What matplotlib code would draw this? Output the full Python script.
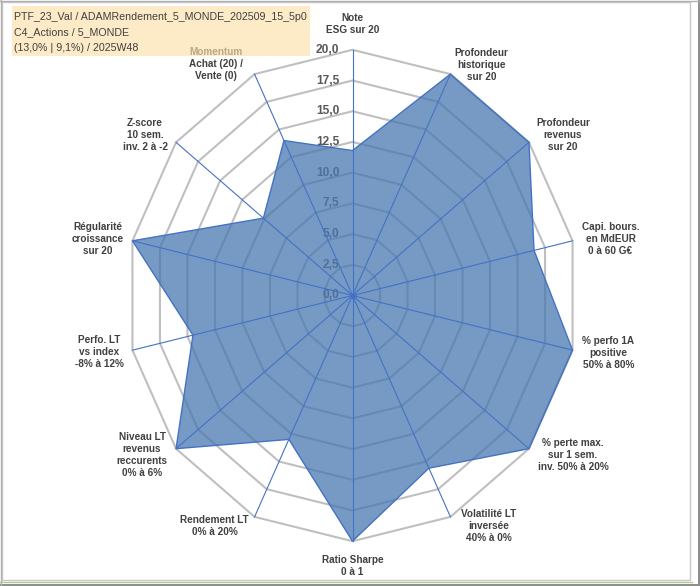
import numpy as np
import matplotlib
matplotlib.use("Agg")
import matplotlib.pyplot as plt
from matplotlib.patches import Polygon, Rectangle
from matplotlib.lines import Line2D

# ---------------- data ----------------
categories = [
    "Note\nESG sur 20",
    "Profondeur\nhistorique\nsur 20",
    "Profondeur\nrevenus\nsur 20",
    "Capi. bours.\nen MdEUR\n0 à 60 G€",
    "% perfo 1A\npositive\n50% à 80%",
    "% perte max.\nsur 1 sem.\ninv. 50% à 20%",
    "Volatilité LT\ninversée\n40% à 0%",
    "Ratio Sharpe\n0 à 1",
    "Rendement LT\n0% à 20%",
    "Niveau LT\nrevenus\nreccurents\n0% à 6%",
    "Perfo. LT\nvs index\n-8% à 12%",
    "Régularité\ncroissance\nsur 20",
    "Z-score\n10 sem.\ninv. 2 à -2",
    "Momentum\nAchat (20) /\nVente (0)",
]
values = [11.8, 20.0, 20.0, 16.5, 20.0, 20.0, 15.6, 20.0, 13.0, 20.0, 14.5, 20.0, 10.1, 14.0]
ticks = [0.0, 2.5, 5.0, 7.5, 10.0, 12.5, 15.0, 17.5, 20.0]
tick_labels = ["0,0", "2,5", "5,0", "7,5", "10,0", "12,5", "15,0", "17,5", "20,0"]
title_lines = ["PTF_23_Val / ADAMRendement_5_MONDE_202509_15_5p0",
               "C4_Actions / 5_MONDE",
               "(13,0% | 9,1%) / 2025W48"]
rmax = 20.0

# ---------------- layout ----------------
W, H = 700, 586
cx, cy = 352.5, 295.5          # centre in px (from top-left)
Rx, Ry = 225.7, 245.7          # px for r = rmax
sx, sy = Rx / rmax, Ry / rmax

# label offsets (pixels, +x right, +y up) relative to outer vertex
label_offsets = [(0, 26), (31, 9), (34, 7), (38, 2), (36, -3), (44, -6), (38, -9),
                 (0, -25), (-40, -9), (-34, -6), (-33, -2), (-35, 2), (-31, 7), (-39, 10)]

fig = plt.figure(figsize=(W / 100, H / 100), dpi=100)
fig.patch.set_facecolor("white")
ax = fig.add_axes([0, 0, 1, 1])
ax.set_xlim(-cx / sx, (W - cx) / sx)
ax.set_ylim(-(H - cy) / sy, cy / sy)
ax.axis("off")

n = len(categories)
theta = np.arange(n) * 2 * np.pi / n


def pts(r):
    r = np.asarray(r, dtype=float)
    return np.column_stack([r * np.sin(theta), r * np.cos(theta)])


# grid polygons
for t in ticks[1:]:
    ax.add_patch(Polygon(pts(np.full(n, t)), closed=True, fill=False,
                         edgecolor="#BFBFBF", lw=1.5, zorder=1))

# tick labels
for t, lab in zip(ticks, tick_labels):
    ax.annotate(lab, xy=(0, t), xytext=(-13, 0), textcoords="offset pixels",
                ha="right", va="center", fontsize=8.6, fontweight="bold",
                color="#595959", family="Liberation Sans", zorder=1.5)

# filled series
vp = pts(values)
ax.add_patch(Polygon(vp, closed=True, facecolor="#4878B0", alpha=0.75,
                     edgecolor="none", zorder=2))
ax.add_patch(Polygon(vp, closed=True, fill=False, edgecolor="#4472C4",
                     lw=1.0, zorder=3))

# spokes
outer = pts(np.full(n, rmax))
for x, y in outer:
    ax.plot([0, x], [0, y], color="#4472C4", lw=0.8, zorder=3)
ax.plot([0], [0], "o", color="#4472C4", ms=3.5, zorder=3.5)

# category labels
for (x, y), lab, off in zip(outer, categories, label_offsets):
    ax.annotate(lab, xy=(x, y), xytext=off, textcoords="offset pixels",
                ha="center", va="center", multialignment="center",
                fontsize=7.2, fontweight="bold", color="#404040",
                family="Liberation Sans", linespacing=1.25, zorder=4)

# ---------------- frame ----------------
def fx(px):
    return px / W


def fy(py):
    return 1 - py / H


fig.add_artist(Rectangle((fx(1.5), fy(580)), fx(690) - fx(1.5), fy(1.5) - fy(580),
                         transform=fig.transFigure, fill=False,
                         edgecolor="#C8C8C8", lw=1.0, zorder=10))
fig.add_artist(Line2D([fx(0), fx(692)], [fy(581.5), fy(581.5)],
                      transform=fig.transFigure, color="#A9D08E", lw=1.0, zorder=10))
fig.add_artist(Line2D([fx(698.5), fx(698.5)], [fy(0), fy(586)],
                      transform=fig.transFigure, color="#8C8C8C", lw=1.4, zorder=10))
fig.add_artist(Line2D([fx(0), fx(700)], [fy(584.5), fy(584.5)],
                      transform=fig.transFigure, color="#8C8C8C", lw=1.4, zorder=10))
fig.add_artist(Line2D([fx(0.5), fx(0.5)], [fy(0), fy(586)],
                      transform=fig.transFigure, color="#B0B0B0", lw=1.0, zorder=10))
fig.add_artist(Line2D([fx(0), fx(700)], [fy(0.5), fy(0.5)],
                      transform=fig.transFigure, color="#B0B0B0", lw=1.0, zorder=10))

# title box
fig.add_artist(Rectangle((fx(12), fy(55.5)), fx(310) - fx(12), fy(6) - fy(55.5),
                         transform=fig.transFigure, facecolor="#FCE0A9",
                         edgecolor="none", alpha=0.65, zorder=11))
for i, line in enumerate(title_lines):
    fig.text(fx(14), fy(16.8 + 15.5 * i), line, ha="left", va="center",
             fontsize=7.65, color="#404040", family="Liberation Sans", zorder=12)

fig.savefig("out.png", dpi=100, facecolor="white")
